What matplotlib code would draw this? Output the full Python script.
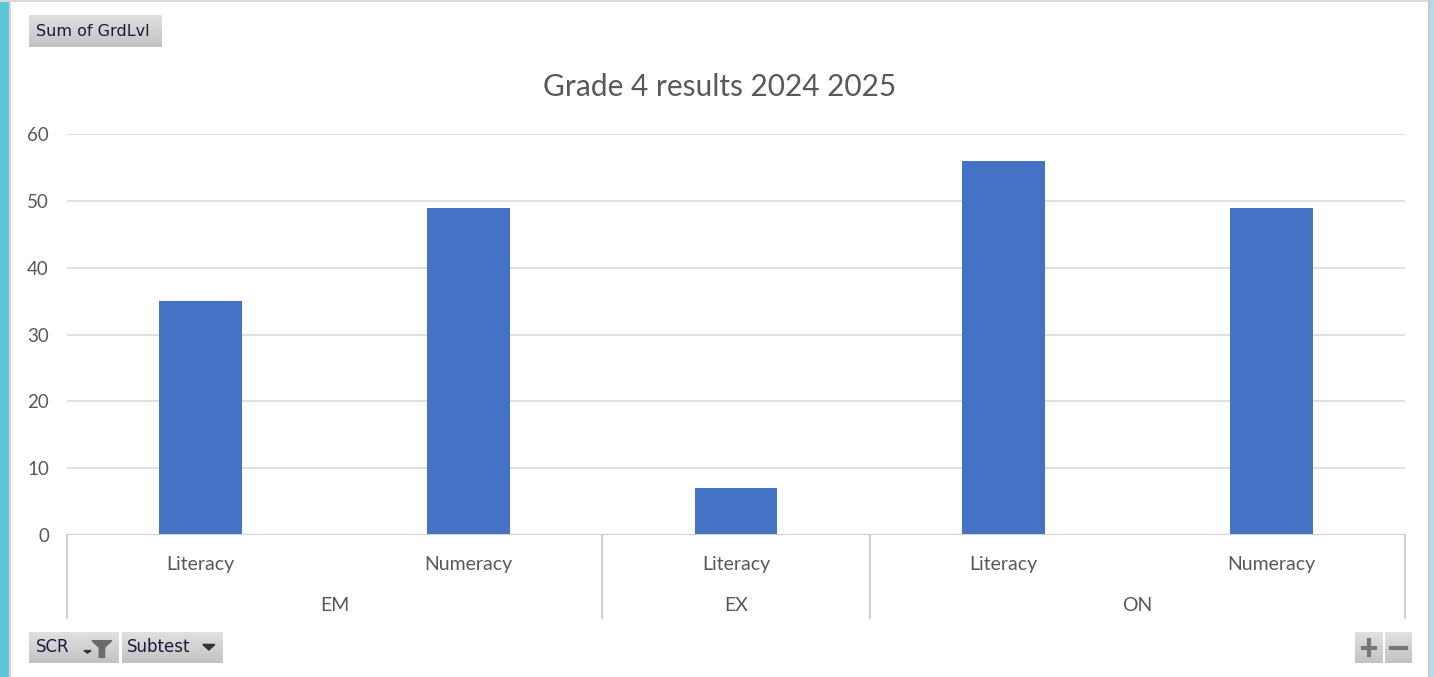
import matplotlib
matplotlib.use("Agg")
import matplotlib.pyplot as plt
import numpy as np
from matplotlib.patches import Rectangle
from matplotlib.transforms import blended_transform_factory

# ---- data ----
groups = ["EM", "EM", "EX", "ON", "ON"]
subtests = ["Literacy", "Numeracy", "Literacy", "Literacy", "Numeracy"]
values = [35, 49, 7, 56, 49]
group_names = ["EM", "EX", "ON"]
y_ticks = [0, 10, 20, 30, 40, 50, 60]
title = "Grade 4 results 2024 2025"

W, H = 1434, 677
fig = plt.figure(figsize=(W / 100, H / 100), dpi=100)
fig.patch.set_facecolor("white")

FONT = ["Lato", "DejaVu Sans"]
TXT = "#595959"

def px_axes(x0, y0, x1, y1, **kw):
    return fig.add_axes([x0 / W, 1 - y1 / H, (x1 - x0) / W, (y1 - y0) / H], **kw)

# frame decorations
fig.patches.append(Rectangle((0, 0), 9 / W, 1, transform=fig.transFigure,
                             facecolor="#5ec6dc", edgecolor="none", zorder=0))
fig.patches.append(Rectangle((9 / W, 0), 2 / W, 1, transform=fig.transFigure,
                             facecolor="#d6d6d6", edgecolor="none", zorder=0))
fig.patches.append(Rectangle((0, 1 - 2 / H), 1, 2 / H, transform=fig.transFigure,
                             facecolor="#d9d9d9", edgecolor="none", zorder=0))
fig.patches.append(Rectangle((1 - 6 / W, 0), 2 / W, 1, transform=fig.transFigure,
                             facecolor="#c8c8c8", edgecolor="none", zorder=0))
fig.patches.append(Rectangle((1 - 4 / W, 0), 4 / W, 1, transform=fig.transFigure,
                             facecolor="#b8d8e4", edgecolor="none", zorder=0))

# ---- main chart ----
ax = px_axes(67, 134, 1405, 535)
x = np.arange(len(values))
ax.bar(x, values, width=0.31, color="#4472c4", zorder=3)
ax.set_xlim(-0.5, len(values) - 0.5)
ax.set_ylim(0, 60)
ax.set_yticks(y_ticks)
ax.set_yticklabels([str(t) for t in y_ticks], fontsize=13.5, color=TXT, family=FONT)
ax.tick_params(axis="y", length=0, pad=13)
ax.set_xticks([])
for s in ax.spines.values():
    s.set_visible(False)
ax.grid(axis="y", color="#d9d9d9", linewidth=1.2, zorder=0)
ax.set_axisbelow(True)
ax.axhline(0, color="#d0d0d0", linewidth=1.5, zorder=4)

tr = blended_transform_factory(ax.transData, ax.transAxes)
for xi, lab in zip(x, subtests):
    ax.text(xi, -0.074, lab, transform=tr, ha="center", va="center",
            fontsize=14, color=TXT, family=FONT)
# group separators and group labels
bounds = [-0.5]
for i in range(1, len(groups)):
    if groups[i] != groups[i - 1]:
        bounds.append(i - 0.5)
bounds.append(len(groups) - 0.5)
for b in bounds:
    ax.plot([b, b], [0, -0.207], transform=tr, color="#d0d0d0", lw=1.5, clip_on=False)
for g in group_names:
    idx = [i for i, gg in enumerate(groups) if gg == g]
    ax.text(np.mean(idx), -0.176, g, transform=tr, ha="center", va="center",
            fontsize=14, color=TXT, family=FONT)

fig.text(720 / W, 1 - 87 / H, title, ha="center", va="center",
         fontsize=21.5, color=TXT, family=FONT)

# ---- pivot buttons ----
grad = np.linspace(0.88, 0.76, 50).reshape(-1, 1)

def button(x0, y0, x1, y1, label=None, fs=11.5, extra=None, lx=0.06):
    b = px_axes(x0, y0, x1, y1)
    b.imshow(np.repeat(grad, 2, axis=1), cmap="gray", vmin=0, vmax=1,
             aspect="auto", extent=[0, 1, 0, 1])
    b.set_xlim(0, 1)
    b.set_ylim(0, 1)
    b.axis("off")
    if label:
        b.text(lx, 0.5, label, ha="left", va="center", fontsize=fs,
               color="#1a1a3a", family=["DejaVu Sans"])
    if extra:
        extra(b)
    return b

button(29, 15, 162, 47, "Sum of GrdLvl", fs=11.5, lx=0.05)

def scr_extra(b):
    b.fill([0.61, 0.69, 0.65], [0.40, 0.40, 0.32], color="#333")
    b.fill([0.70, 0.92, 0.84, 0.84, 0.78, 0.78], [0.72, 0.72, 0.50, 0.18, 0.18, 0.50],
           color="#6b6b6b")

def sub_extra(b):
    b.fill([0.80, 0.92, 0.86], [0.60, 0.60, 0.42], color="#333")

button(29, 632, 119, 663, "SCR", fs=12, lx=0.08, extra=scr_extra)
button(122, 632, 223, 663, "Subtest", fs=12, lx=0.05, extra=sub_extra)

def plus_extra(b):
    b.plot([0.27, 0.73], [0.5, 0.5], color="#777", lw=3)
    b.plot([0.5, 0.5], [0.27, 0.73], color="#777", lw=3)

def minus_extra(b):
    b.plot([0.22, 0.78], [0.5, 0.5], color="#777", lw=3)

button(1355, 632, 1383, 663, extra=plus_extra)
button(1385, 632, 1412, 663, extra=minus_extra)

fig.savefig("out.png", dpi=100, facecolor="white")
